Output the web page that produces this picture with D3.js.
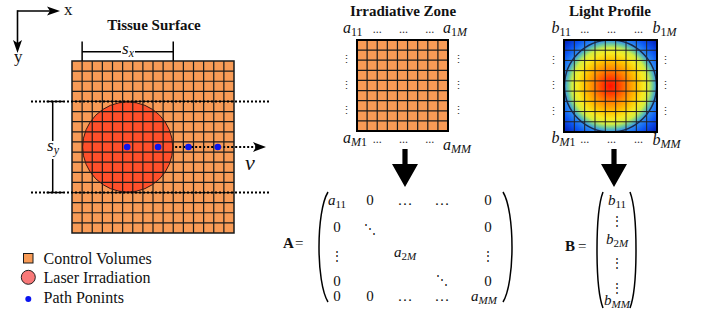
<!DOCTYPE html>
<html>
<head>
<meta charset="utf-8">
<script src="https://cdn.jsdelivr.net/npm/d3@7"></script>
<style>
  body { margin: 0; background: #fff; }
  svg { display: block; }
  .serif { font-family: 'Liberation Serif'; }
</style>
</head>
<body>
<div id="fig"></div>
<script>
// grid sizes (number of cells)
var tissueCols = 16;
var tissueRows = 17;
var zoneCells = 9;

// laser spot and path points, in cell units of the tissue grid
var laserCenter = [5.5, 8.5];
var laserRadius = 4.45;
var pathPoints = [5.45, 8.5, 11.5, 14.4];
var pathRow = 8.5;
var spanX = [1, 10];
var spanY = [4, 13];

var titles = ["Tissue Surface", "Irradiative Zone", "Light Profile"];
var legendLabels = ["Control Volumes", "Laser Irradiation", "Path Ponints"];

// corner labels [letter, subscript] : top-left, top-right, bottom-left, bottom-right
var zoneCorners = [["a", "11"], ["a", "1M"], ["a", "M1"], ["a", "MM"]];
var profileCorners = [["b", "11"], ["b", "1M"], ["b", "M1"], ["b", "MM"]];

// matrix entries
var matrixA = [
  [["a", "11"], ["0"], ["\u2026"], ["\u2026"], ["0"]],
  [["0"], ["\u22F1"], [""], [""], ["0"]],
  [["\u22EE"], [""], ["a", "2M"], [""], ["\u22EE"]],
  [["0"], [""], [""], ["\u22F1"], ["0"]],
  [["0"], ["0"], ["\u2026"], ["\u2026"], ["a", "MM"]]
];
var vectorB = [["b", "11"], ["\u22EE"], ["b", "2M"], ["\u22EE"], ["\u22EE"], ["b", "MM"]];

var W = 709, H = 312;
var serif = "'Liberation Serif'";
var cellColor = "#f89b56";
var laserColor = "#ff4f2a";
var lineColor = "#1a1a1a";

function draw() {
d3.select("#fig").selectAll("*").remove();
var svg = d3.select("#fig").append("svg")
  .attr("width", W)
  .attr("height", H);

var defs = svg.append("defs");

function txt(g, x, y, s, size) {
  var t = g.append("text")
    .attr("class", "serif")
    .attr("x", x).attr("y", y)
    .attr("font-family", "Liberation Serif")
    .attr("font-size", size)
    .attr("fill", "#111")
    .style("font-family", serif)
    .text(s);
  t.node().getComputedTextLength();
  return t;
}

// helper: italic letter with subscript
function mathText(g, x, y, letter, sub, size, anchor) {
  var t = g.append("text")
    .attr("class", "serif")
    .attr("x", x)
    .attr("y", y)
    .attr("text-anchor", anchor || "middle")
    .attr("font-family", "Liberation Serif")
    .attr("font-size", size)
    .attr("fill", "#111")
    .style("font-family", serif);
  if (sub === undefined) {
    if (letter === "\u22EE" || letter === "\u22F1") t.style("font-family", "'DejaVu Serif'").attr("font-size", size - 3);
    t.text(letter);
    return t;
  }
  t.append("tspan").style("font-style", "italic").text(letter);
  sub.split("").forEach(function(ch, i) {
    t.append("tspan")
      .attr("dy", i === 0 ? 3 : null)
      .style("font-style", /[A-Za-z]/.test(ch) ? "italic" : "normal")
      .attr("font-size", Math.round(size * 0.72))
      .text(ch);
  });
  return t;
}

function arrowHead(g, tipX, tipY, dir, len, half) {
  // dir: "right" or "down"
  var p;
  if (dir === "right") {
    p = [[tipX, tipY], [tipX - len, tipY - half], [tipX - len + 3, tipY], [tipX - len, tipY + half]];
  } else {
    p = [[tipX, tipY], [tipX - half, tipY - len], [tipX, tipY - len + 3], [tipX + half, tipY - len]];
  }
  g.append("path").attr("d", "M" + p.join("L") + "Z").attr("fill", "#000");
}

// ---------------- coordinate axes (top left) ----------------
var ax = svg.append("g");
ax.append("line").attr("x1", 17.5).attr("y1", 11).attr("x2", 50).attr("y2", 11)
  .attr("stroke", "#000").attr("stroke-width", 1.6);
ax.append("line").attr("x1", 17.5).attr("y1", 10.2).attr("x2", 17.5).attr("y2", 43)
  .attr("stroke", "#000").attr("stroke-width", 1.6);
arrowHead(ax, 60, 11, "right", 13, 4.5);
arrowHead(ax, 17.5, 53, "down", 13, 4.5);
txt(ax, 64, 15, "x", 17);
txt(ax, 14, 62, "y", 17);

// ---------------- tissue surface ----------------
var tx = d3.scaleLinear().domain([0, tissueCols]).range([72, 234]);
var ty = d3.scaleLinear().domain([0, tissueRows]).range([61, 233]);
var ts = svg.append("g");

txt(ts, 154, 30, titles[0], 15).attr("text-anchor", "middle").attr("font-weight", "bold");

ts.append("rect")
  .attr("x", tx(0)).attr("y", ty(0))
  .attr("width", tx(tissueCols) - tx(0)).attr("height", ty(tissueRows) - ty(0))
  .attr("fill", cellColor);

// path line with arrow (under the laser spot)
ts.append("line")
  .attr("x1", tx(pathPoints[0])).attr("x2", 256)
  .attr("y1", ty(pathRow)).attr("y2", ty(pathRow))
  .attr("stroke", "#000").attr("stroke-width", 2).attr("stroke-dasharray", "2,2");
arrowHead(ts, 266, ty(pathRow), "right", 13, 5);
txt(ts, 245, 170, "\u03BD", 22).attr("font-style", "italic");

var laserR = tx(laserRadius) - tx(0);
ts.append("circle")
  .attr("cx", tx(laserCenter[0])).attr("cy", ty(laserCenter[1])).attr("r", laserR)
  .attr("fill", laserColor);

ts.selectAll("line.v").data(d3.range(1, tissueCols)).enter().append("line")
  .attr("x1", function(d) { return tx(d); }).attr("x2", function(d) { return tx(d); })
  .attr("y1", ty(0)).attr("y2", ty(tissueRows))
  .attr("stroke", lineColor).attr("stroke-width", 1.2);
ts.selectAll("line.h").data(d3.range(1, tissueRows)).enter().append("line")
  .attr("y1", function(d) { return ty(d); }).attr("y2", function(d) { return ty(d); })
  .attr("x1", tx(0)).attr("x2", tx(tissueCols))
  .attr("stroke", lineColor).attr("stroke-width", 1.2);
ts.append("rect")
  .attr("x", tx(0)).attr("y", ty(0))
  .attr("width", tx(tissueCols) - tx(0)).attr("height", ty(tissueRows) - ty(0))
  .attr("fill", "none").attr("stroke", lineColor).attr("stroke-width", 1.5);

ts.append("circle")
  .attr("cx", tx(laserCenter[0])).attr("cy", ty(laserCenter[1])).attr("r", laserR)
  .attr("fill", "none").attr("stroke", "#3a1a10").attr("stroke-width", 1);

// dotted span lines
ts.selectAll("line.span").data(spanY).enter().append("line")
  .attr("x1", 31).attr("x2", 271)
  .attr("y1", function(d) { return ty(d); }).attr("y2", function(d) { return ty(d); })
  .attr("stroke", "#000").attr("stroke-width", 2).attr("stroke-dasharray", "2,2");

// path points
ts.selectAll("circle.pt").data(pathPoints).enter().append("circle")
  .attr("cx", function(d) { return tx(d); }).attr("cy", ty(pathRow)).attr("r", 3.3)
  .attr("fill", "#0a14f0");

// s_x bracket
var bx0 = tx(spanX[0]), bx1 = tx(spanX[1]), by = 51.7;
ts.selectAll("line.sxv").data(spanX).enter().append("line")
  .attr("x1", function(d) { return tx(d); }).attr("x2", function(d) { return tx(d); })
  .attr("y1", 41.5).attr("y2", ty(0))
  .attr("stroke", "#000").attr("stroke-width", 1.5);
ts.append("line").attr("x1", bx0).attr("x2", 121).attr("y1", by).attr("y2", by)
  .attr("stroke", "#000").attr("stroke-width", 1.5);
ts.append("line").attr("x1", 135).attr("x2", bx1).attr("y1", by).attr("y2", by)
  .attr("stroke", "#000").attr("stroke-width", 1.5);
mathText(ts, 128, 54, "s", "x", 17, "middle");

// s_y bracket
var sx = 52.7;
ts.append("line").attr("x1", sx).attr("x2", sx).attr("y1", ty(spanY[0])).attr("y2", 141)
  .attr("stroke", "#000").attr("stroke-width", 1.5);
ts.append("line").attr("x1", sx).attr("x2", sx).attr("y1", 159).attr("y2", ty(spanY[1]))
  .attr("stroke", "#000").attr("stroke-width", 1.5);
ts.selectAll("line.syh").data(spanY).enter().append("line")
  .attr("x1", 46.5).attr("x2", 63)
  .attr("y1", function(d) { return ty(d); }).attr("y2", function(d) { return ty(d); })
  .attr("stroke", "#000").attr("stroke-width", 1.5);
mathText(ts, 53, 151, "s", "y", 17, "middle");

// legend
var lg = svg.append("g");
lg.append("rect").attr("x", 23.5).attr("y", 253.5).attr("width", 9.5).attr("height", 9.5)
  .attr("fill", cellColor).attr("stroke", lineColor).attr("stroke-width", 1);
lg.append("circle").attr("cx", 28.3).attr("cy", 277.3).attr("r", 7)
  .attr("fill", "#f87878").attr("stroke", "#222").attr("stroke-width", 1);
lg.append("circle").attr("cx", 28.3).attr("cy", 299).attr("r", 3)
  .attr("fill", "#0a14f0");
legendLabels.forEach(function(d, i) {
  txt(lg, 43.5, [263.5, 282.5, 303][i], d, 16);
});

// ---------------- corner labels and dots ----------------
function cornerLabels(g, xs, ys, labels, pos) {
  mathText(g, pos[0], 33, labels[0][0], labels[0][1], 16, "start");
  mathText(g, pos[1], 33, labels[1][0], labels[1][1], 16, "start");
  mathText(g, pos[0], 143, labels[2][0], labels[2][1], 16, "start");
  mathText(g, pos[1], pos[2], labels[3][0], labels[3][1], 16, "start");
  var dotX = [xs(2), xs(4.6), xs(7.2)];
  dotX.concat(dotX).forEach(function(d, i) {
    txt(g, d, i < 3 ? 33 : 143, "...", 12).attr("text-anchor", "middle").attr("fill", "#333");
  });
  var dotY = [ys(2.3), ys(4.8), ys(7.3)];
  [pos[3], pos[4]].forEach(function(x) {
    dotY.forEach(function(y) {
      g.append("text").attr("x", x).attr("y", y)
        .attr("text-anchor", "middle")
        .style("font-family", "'DejaVu Serif'")
        .attr("font-size", 11)
        .attr("fill", "#333")
        .text("\u22EE");
    });
  });
}

// ---------------- irradiative zone ----------------
var zx = d3.scaleLinear().domain([0, zoneCells]).range([357, 448]);
var zy = d3.scaleLinear().domain([0, zoneCells]).range([40, 131]);
var zg = svg.append("g");
txt(zg, 403, 16, titles[1], 15).attr("text-anchor", "middle").attr("font-weight", "bold");
zg.append("rect").attr("x", zx(0)).attr("y", zy(0))
  .attr("width", zx(zoneCells) - zx(0)).attr("height", zy(zoneCells) - zy(0))
  .attr("fill", cellColor);
zg.selectAll("line.v").data(d3.range(1, zoneCells)).enter().append("line")
  .attr("x1", function(d) { return zx(d); }).attr("x2", function(d) { return zx(d); })
  .attr("y1", zy(0)).attr("y2", zy(zoneCells))
  .attr("stroke", lineColor).attr("stroke-width", 1.2);
zg.selectAll("line.h").data(d3.range(1, zoneCells)).enter().append("line")
  .attr("y1", function(d) { return zy(d); }).attr("y2", function(d) { return zy(d); })
  .attr("x1", zx(0)).attr("x2", zx(zoneCells))
  .attr("stroke", lineColor).attr("stroke-width", 1.2);
zg.append("rect").attr("x", zx(0)).attr("y", zy(0))
  .attr("width", zx(zoneCells) - zx(0)).attr("height", zy(zoneCells) - zy(0))
  .attr("fill", "none").attr("stroke", "#000").attr("stroke-width", 2);
cornerLabels(zg, zx, zy, zoneCorners, [343, 443, 150, 346, 458]);

// ---------------- light profile ----------------
var px = d3.scaleLinear().domain([0, zoneCells]).range([564, 657]);
var py = d3.scaleLinear().domain([0, zoneCells]).range([40, 132]);
var pg = svg.append("g");
txt(pg, 610, 16, titles[2], 15).attr("text-anchor", "middle").attr("font-weight", "bold");

var grad = defs.append("radialGradient").attr("id", "heat")
  .attr("cx", "50%").attr("cy", "50%").attr("r", "71%");
[[0, "#ff1000"], [0.12, "#ff3c00"], [0.27, "#ff8a00"], [0.4, "#ffc400"],
 [0.5, "#f8ea20"], [0.58, "#d4ee40"], [0.64, "#70cc9a"], [0.7, "#3090f0"],
 [0.82, "#0c58f4"], [1, "#0016b0"]].forEach(function(s) {
  grad.append("stop").attr("offset", s[0]).attr("stop-color", s[1]);
});
pg.append("rect").attr("x", px(0)).attr("y", py(0))
  .attr("width", px(zoneCells) - px(0)).attr("height", py(zoneCells) - py(0))
  .attr("fill", "url(#heat)");
pg.selectAll("line.v").data(d3.range(1, zoneCells)).enter().append("line")
  .attr("x1", function(d) { return px(d); }).attr("x2", function(d) { return px(d); })
  .attr("y1", py(0)).attr("y2", py(zoneCells))
  .attr("stroke", "#222").attr("stroke-width", 1);
pg.selectAll("line.h").data(d3.range(1, zoneCells)).enter().append("line")
  .attr("y1", function(d) { return py(d); }).attr("y2", function(d) { return py(d); })
  .attr("x1", px(0)).attr("x2", px(zoneCells))
  .attr("stroke", "#222").attr("stroke-width", 1);
pg.append("circle")
  .attr("cx", px(zoneCells / 2)).attr("cy", py(zoneCells / 2))
  .attr("r", (px(zoneCells) - px(0)) / 2 - 0.5)
  .attr("fill", "none").attr("stroke", "#1b2a4a").attr("stroke-width", 1.5);
pg.append("rect").attr("x", px(0)).attr("y", py(0))
  .attr("width", px(zoneCells) - px(0)).attr("height", py(zoneCells) - py(0))
  .attr("fill", "none").attr("stroke", "#000").attr("stroke-width", 2);
cornerLabels(pg, px, py, profileCorners, [551.5, 652.5, 145, 553, 665.5]);

// ---------------- down arrows ----------------
function bigArrow(cx) {
  svg.append("path")
    .attr("d", "M" + (cx - 2.6) + ",149V164H" + (cx - 13) + "L" + cx + ",187L" + (cx + 13) +
      ",164H" + (cx + 2.6) + "V149Z")
    .attr("fill", "#000");
}
bigArrow(405);
bigArrow(614);

// ---------------- matrices ----------------
function paren(x0, x1, y0, y1, left) {
  var h = y1 - y0;
  var xe = left ? x1 : x0, xm = left ? x0 : x1;
  svg.append("path")
    .attr("d", "M" + xe + "," + y0 + "C" + xm + "," + (y0 + h * 0.18) + " " + xm + "," + (y1 - h * 0.18) +
      " " + xe + "," + y1)
    .attr("fill", "none").attr("stroke", "#000").attr("stroke-width", 1.5);
}

var ma = svg.append("g");
txt(ma, 283, 248, "A", 15).attr("font-weight", "bold");
txt(ma, 295, 248, "=", 15);
paren(316, 328, 192, 302, true);
paren(503, 515, 192, 302, false);
var colA = d3.scaleOrdinal().domain(d3.range(5)).range([337, 370, 405, 442, 488]);
var rowA = d3.scaleOrdinal().domain(d3.range(5)).range([205, 232, 260, 286, 301]);
matrixA.forEach(function(row, r) {
  row.forEach(function(e, c) {
    if (e[0] === "") return;
    var x = colA(c);
    if (r === 4 && c === 4) x = 484;
    var y = rowA(r);
    if (e[0] === "\u22F1") y += (r < 2 ? 1 : -2);
    if (e[1] === "2M") y -= 3;
    mathText(ma, x, y, e[0], e[1], 15, "middle");
  });
});

var mb = svg.append("g");
txt(mb, 565, 251, "B", 15).attr("font-weight", "bold");
txt(mb, 578, 251, "=", 15);
paren(595, 603, 192, 308, true);
paren(630, 638, 192, 308, false);
var rowB = d3.scaleOrdinal().domain(d3.range(6)).range([205, 225, 244, 267, 292, 305]);
vectorB.forEach(function(e, i) {
  mathText(mb, 617, rowB(i), e[0], e[1], 15, "middle");
});
}

draw();
// redraw once the serif faces are surely available
if (document.fonts && document.fonts.load) {
  Promise.all([
    document.fonts.load("16px " + serif),
    document.fonts.load("bold 16px " + serif),
    document.fonts.load("italic 16px " + serif)
  ]).then(draw, function() {});
}
</script>
</body>
</html>
